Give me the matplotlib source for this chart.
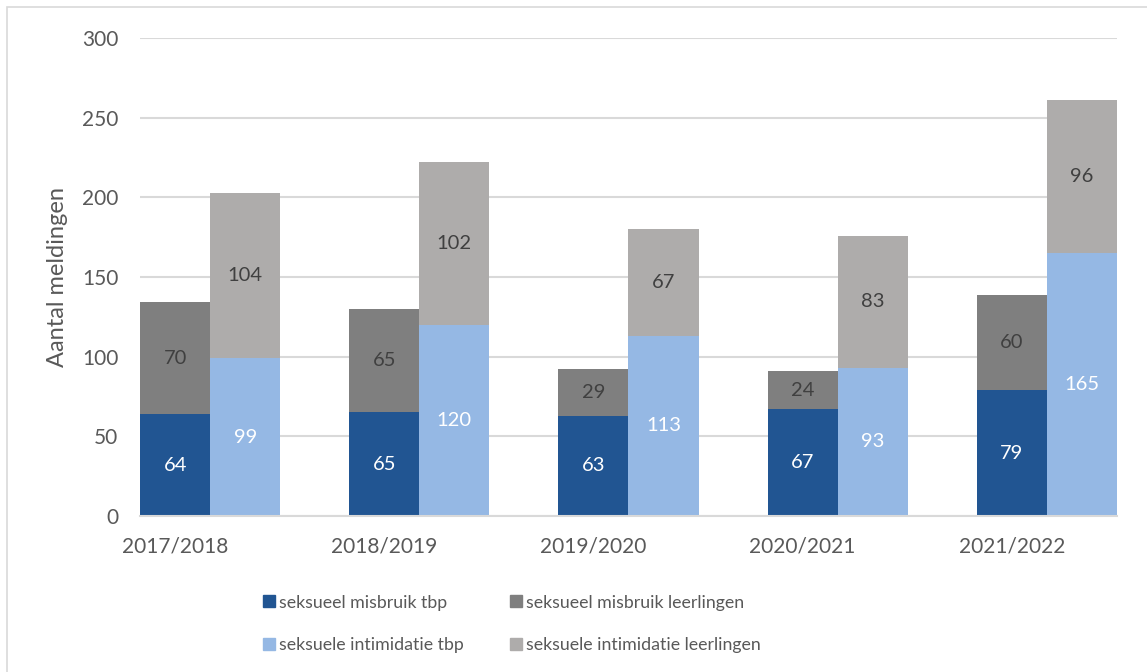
import numpy as np
import matplotlib.pyplot as plt
from matplotlib.patches import Rectangle, Patch

plt.rcParams['font.family'] = ['Lato', 'DejaVu Sans']

jaren = ['2017/2018', '2018/2019', '2019/2020', '2020/2021', '2021/2022']
misbruik_tbp = [64, 65, 63, 67, 79]
misbruik_leerlingen = [70, 65, 29, 24, 60]
intimidatie_tbp = [99, 120, 113, 93, 165]
intimidatie_leerlingen = [104, 102, 67, 83, 96]

c_mtbp = '#215592'
c_mll = '#7f7f7f'
c_itbp = '#95b8e4'
c_ill = '#aeacab'
txt = '#595959'

fig = plt.figure(figsize=(11.47, 6.72), dpi=100)
fig.patches.append(Rectangle((7 / 1147, -0.01), 1.02, 1 - 7 / 672 + 0.01, transform=fig.transFigure,
                             fill=False, edgecolor='#d9d9d9', linewidth=1.2))
ax = fig.add_axes([140 / 1147, 1 - 516 / 672, (1117 - 140) / 1147, (516 - 38) / 672])

x = np.arange(len(jaren))
w = 0.335
xl = x
xr = x + w

ax.bar(xl, misbruik_tbp, w, color=c_mtbp, zorder=2)
ax.bar(xl, misbruik_leerlingen, w, bottom=misbruik_tbp, color=c_mll, zorder=2)
ax.bar(xr, intimidatie_tbp, w, color=c_itbp, zorder=2)
ax.bar(xr, intimidatie_leerlingen, w, bottom=intimidatie_tbp, color=c_ill, zorder=2)

fs = 14.5
for i in range(len(jaren)):
    ax.text(xl[i], misbruik_tbp[i] / 2, str(misbruik_tbp[i]), ha='center', va='center',
            color='white', fontsize=fs, zorder=3)
    ax.text(xl[i], misbruik_tbp[i] + misbruik_leerlingen[i] / 2, str(misbruik_leerlingen[i]),
            ha='center', va='center', color='#404040', fontsize=fs, zorder=3)
    ax.text(xr[i], intimidatie_tbp[i] / 2, str(intimidatie_tbp[i]), ha='center', va='center',
            color='white', fontsize=fs, zorder=3)
    ax.text(xr[i], intimidatie_tbp[i] + intimidatie_leerlingen[i] / 2, str(intimidatie_leerlingen[i]),
            ha='center', va='center', color='#404040', fontsize=fs, zorder=3)

ax.set_xlim(-0.168, 4.503)
ax.set_ylim(0, 300)
ax.set_yticks(np.arange(0, 301, 50))
ax.set_xticks(x)
ax.set_xticklabels(jaren)
ax.tick_params(axis='both', length=0, labelsize=fs + 0.5, colors=txt)
ax.tick_params(axis='y', pad=15.5)
ax.tick_params(axis='x', pad=15)
ax.grid(axis='y', color='#d9d9d9', linewidth=1.5, zorder=0)
for s in ['top', 'right', 'left']:
    ax.spines[s].set_visible(False)
ax.spines['bottom'].set_color('#d9d9d9')
ax.spines['bottom'].set_linewidth(1.5)
fig.text(58 / 1147, 1 - 277 / 672, 'Aantal meldingen', rotation=90, ha='center', va='center',
         fontsize=17, color=txt)

handles = [Patch(color=c_mtbp), Patch(color=c_mll), Patch(color=c_itbp), Patch(color=c_ill)]
labels = ['seksueel misbruik tbp', 'seksueel misbruik leerlingen',
          'seksuele intimidatie tbp', 'seksuele intimidatie leerlingen']
order = [0, 2, 1, 3]
leg = fig.legend([handles[k] for k in order], [labels[k] for k in order], ncol=2,
                 loc='center left', bbox_to_anchor=(263 / 1147, 1 - 624 / 672), frameon=False,
                 fontsize=12.8, handlelength=0.65, handleheight=0.65, handletextpad=0.25,
                 columnspacing=2.6, labelspacing=1.5, labelcolor=txt, borderpad=0,
                 borderaxespad=0)

fig.savefig('out.png', dpi=100)
